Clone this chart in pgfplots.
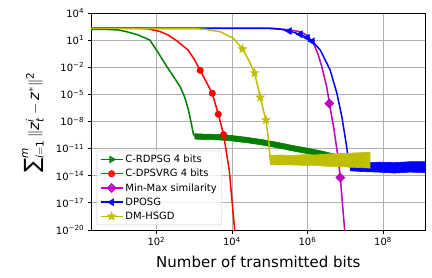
\documentclass[border=0pt]{standalone}
\usepackage{amsmath}
\usepackage{pgfplots}
\pgfplotsset{compat=1.18}
\usepackage{fontspec}
\setmainfont{DejaVu Sans}
\usetikzlibrary{plotmarks}

\definecolor{mgreen}{RGB}{0,128,0}
\definecolor{mred}{RGB}{255,0,0}
\definecolor{mmag}{RGB}{191,0,191}
\definecolor{mblue}{RGB}{0,0,255}
\definecolor{myel}{RGB}{191,191,0}

\pgfdeclareplotmark{fstar}{%
  \pgfpathmoveto{\pgfpointpolar{90}{\pgfplotmarksize}}%
  \pgfpathlineto{\pgfpointpolar{126}{0.42\pgfplotmarksize}}%
  \pgfpathlineto{\pgfpointpolar{162}{\pgfplotmarksize}}%
  \pgfpathlineto{\pgfpointpolar{198}{0.42\pgfplotmarksize}}%
  \pgfpathlineto{\pgfpointpolar{234}{\pgfplotmarksize}}%
  \pgfpathlineto{\pgfpointpolar{270}{0.42\pgfplotmarksize}}%
  \pgfpathlineto{\pgfpointpolar{306}{\pgfplotmarksize}}%
  \pgfpathlineto{\pgfpointpolar{342}{0.42\pgfplotmarksize}}%
  \pgfpathlineto{\pgfpointpolar{18}{\pgfplotmarksize}}%
  \pgfpathlineto{\pgfpointpolar{54}{0.42\pgfplotmarksize}}%
  \pgfpathclose
  \pgfusepathqfillstroke
}

\begin{document}
\begin{tikzpicture}
\useasboundingbox (0,0) rectangle (432pt,277pt);
\begin{axis}[
  at={(91pt,47pt)}, anchor=south west,
  scale only axis, width=334.7pt, height=217pt,
  xmode=log, ymode=log,
  xmin=1.862, xmax=1.349e9, ymin=1e-20, ymax=1e4,
  xtick={1e2,1e4,1e6,1e8},
  xticklabels={10\textsuperscript{2},10\textsuperscript{4},10\textsuperscript{6},10\textsuperscript{8}},
  ytick={1e4,1e1,1e-2,1e-5,1e-8,1e-11,1e-14,1e-17,1e-20},
  yticklabels={10\textsuperscript{4},10\textsuperscript{1},10\textsuperscript{−2},10\textsuperscript{−5},10\textsuperscript{−8},10\textsuperscript{−11},10\textsuperscript{−14},10\textsuperscript{−17},10\textsuperscript{−20}},
  minor tick length=0pt,
  tick pos=left,
  tick align=outside, major tick length=3.5pt,
  major tick style={black, line width=0.8pt},
  xmajorgrids, ymajorgrids,
  grid style={black!31, line width=0.8pt},
  axis line style={line width=0.8pt},
  ticklabel style={font=\fontsize{10}{12}\selectfont},
  xlabel={Number of transmitted bits},
  label style={font=\fontsize{15}{18}\selectfont},
  xlabel style={at={(axis description cs:0.5,-0.147)}, anchor=center},
  legend style={at={(axis description cs:0.017,0.023)}, anchor=south west,
    draw=black!20, fill=white, fill opacity=0.8, text opacity=1,
    rounded corners=2pt, font=\fontsize{10}{12}\selectfont,
    row sep=1.2pt, inner xsep=3pt, inner ysep=2pt},
  legend cell align=left,
  legend image code/.code={\draw[mark repeat=2,mark phase=2,#1] plot coordinates {(0pt,0pt) (11pt,0pt) (22pt,0pt)};},
]
\addlegendimage{mgreen, line width=1.5pt, mark=triangle*, mark size=3.5pt, mark options={rotate=-90, line width=1pt}}
\addlegendentry{C-RDPSG 4 bits}
\addlegendimage{mred, line width=1.5pt, mark=*, mark size=3pt, mark options={line width=1pt}}
\addlegendentry{C-DPSVRG 4 bits}
\addlegendimage{mmag, line width=1.5pt, mark=square*, mark size=3pt, mark options={rotate=45, line width=1pt}}
\addlegendentry{Min-Max similarity}
\addlegendimage{mblue, line width=1.5pt, mark=triangle*, mark size=3.5pt, mark options={rotate=90, line width=1pt}}
\addlegendentry{DPOSG}
\addlegendimage{myel, line width=1.5pt, mark=fstar, mark size=3.8pt, mark options={line width=1pt}}
\addlegendentry{DM-HSGD}

% C-RDPSG 4 bits (green)
\addplot[mgreen, line width=1.5pt, forget plot] coordinates {
(1.862,158.5) (5.012,151.4) (10,131.8) (16.22,85.11) (31.62,39.81) (67.61,10)
(112.2,0.3981) (190.5,1.148e-2) (281.8,1e-3) (426.6,7.079e-5) (562.3,5.012e-6)
(707.9,1.862e-7) (851.1,5.012e-9) (955,3.981e-10) (1047,2.399e-10)
(3162,1.862e-10) (1e4,1.380e-10) (6.31e4,5.012e-11) (4.266e5,1.072e-11)
(2.63e6,2.512e-12) (5.623e6,1.122e-12)
};
\addplot[mgreen, fill=mgreen, line width=0.6pt, forget plot] coordinates {
(1047,4.467e-10) (1995,3.981e-10) (3981,3.802e-10) (1e4,2.818e-10) (2.512e4,1.778e-10)
(6.31e4,1e-10) (1.585e5,5.012e-11) (4.266e5,2.138e-11) (1e6,1.122e-11) (2.63e6,5.012e-12)
(5.623e6,2.239e-12)
(5.623e6,5.623e-13) (2.63e6,1.259e-12) (1e6,2.818e-12) (4.266e5,5.370e-12) (1.585e5,1.259e-11)
(6.31e4,2.512e-11) (2.512e4,4.467e-11) (1e4,7.079e-11) (3981,9.55e-11) (1995,1e-10)
(1047,1.122e-10)
} -- cycle;

% C-DPSVRG 4 bits (red)
\addplot[mred, line width=1.5pt, forget plot] coordinates {
(1.862,218.8) (31.62,213.8) (60.26,177.8) (125.9,89.13) (204.2,37.15) (354.8,7.943)
(691.8,0.7943) (1000,7.943e-2) (1445,4.571e-3) (3020,1.318e-5) (4365,6.31e-8)
(6026,3.631e-10) (8511,3.981e-14) (1.202e4,5.012e-21)
};
\addplot[mred, only marks, mark=*, mark size=3pt, mark options={line width=1pt}, forget plot] coordinates {
(1445,4.571e-3) (3020,1.318e-5) (4365,6.31e-8) (6026,3.631e-10)
};

% Min-Max similarity (magenta)
\addplot[mmag, line width=1.5pt, forget plot] coordinates {
(1.862,218.8) (1e5,213.8) (1.585e5,186.2) (3.162e5,141.3) (6.457e5,85.11) (1e6,31.62)
(1.445e6,4.467) (1.905e6,0.2818) (2.399e6,1.148e-2) (3.236e6,7.079e-5) (3.802e6,1e-6)
(5.012e6,1.585e-9) (6.31e6,1.995e-12) (7.413e6,6.31e-15) (9.772e6,5.012e-21)
};
\addplot[mmag, only marks, mark=square*, mark size=3pt, mark options={rotate=45, line width=1pt}, forget plot] coordinates {
(3.802e6,1e-6) (7.413e6,6.31e-15)
};

% DPOSG (blue)
\addplot[mblue, line width=1.5pt, forget plot] coordinates {
(1.862,199.5) (1e5,195) (1.995e5,158.5) (3.311e5,100) (6.457e5,43.65) (1e6,18.62)
(1.349e6,7.413) (2.188e6,0.7943) (3.981e6,5.012e-3) (6.026e6,1.259e-5) (8.128e6,3.388e-8)
(1.023e7,8.913e-11) (1.202e7,1e-12) (1.349e7,1e-13) (1.585e9,8.913e-14)
};
\addplot[mblue, fill=mblue, line width=0.6pt, forget plot] coordinates {
(1.349e7,2.512e-13) (3.162e7,2.818e-13) (7.943e7,3.162e-13) (1.995e8,2.818e-13)
(5.012e8,3.548e-13) (1.585e9,3.548e-13)
(1.585e9,2.239e-14) (5.012e8,2.512e-14) (1.995e8,1.995e-14) (7.943e7,2.512e-14)
(3.162e7,2.818e-14) (1.349e7,3.548e-14)
} -- cycle;
\addplot[mblue, only marks, mark=triangle*, mark size=3.5pt, mark options={rotate=90, line width=1pt}, forget plot] coordinates {
(3.311e5,100) (6.457e5,43.65) (1e6,18.62) (1.349e6,7.413)
};

% DM-HSGD (yellow)
\addplot[myel, line width=1.5pt, forget plot] coordinates {
(1.862,199.5) (1000,186.2) (1995,158.5) (4898,85.11) (1.096e4,15.85) (1.905e4,1.047)
(2.818e4,5.623e-2) (3.981e4,2.291e-3) (5.623e4,4.677e-6) (7.943e4,1.445e-8)
(9.333e4,1e-10) (1.047e5,3.981e-13) (4.571e7,5.012e-13)
};
\addplot[myel, fill=myel, line width=0.6pt, forget plot] coordinates {
(1.047e5,1.778e-12) (1.995e5,1.995e-12) (3.981e5,1.660e-12) (7.943e5,2.239e-12)
(1.585e6,1.995e-12) (3.162e6,2.512e-12) (6.31e6,2.818e-12) (1.259e7,3.162e-12)
(2.512e7,3.548e-12) (4.571e7,3.981e-12)
(4.571e7,7.079e-14) (2.512e7,7.943e-14) (1.259e7,8.913e-14) (6.31e6,1.122e-13)
(3.162e6,1.122e-13) (1.585e6,1.413e-13) (7.943e5,1.413e-13) (3.981e5,1.585e-13)
(1.995e5,1.585e-13) (1.047e5,1.778e-13)
} -- cycle;
\addplot[myel, only marks, mark=fstar, mark size=3.8pt, mark options={line width=1pt}, forget plot] coordinates {
(1.905e4,1.047) (3.981e4,2.291e-3) (5.623e4,4.677e-6) (7.943e4,1.445e-8)
};
\end{axis}
\node[rotate=90, anchor=center, font=\fontsize{15}{18}\selectfont, inner sep=0pt] at (33pt,154.5pt)
  {$\mathop{\text{\fontsize{21}{21}\selectfont ∑}}\nolimits_{\text{\itshape i}=\text{1}}^{\text{\itshape m}}\|\text{\itshape z}_{\text{\itshape t}}^{\text{\itshape i}}-\text{\itshape z}^{*}\|^{\text{2}}$};
\end{tikzpicture}
\end{document}
